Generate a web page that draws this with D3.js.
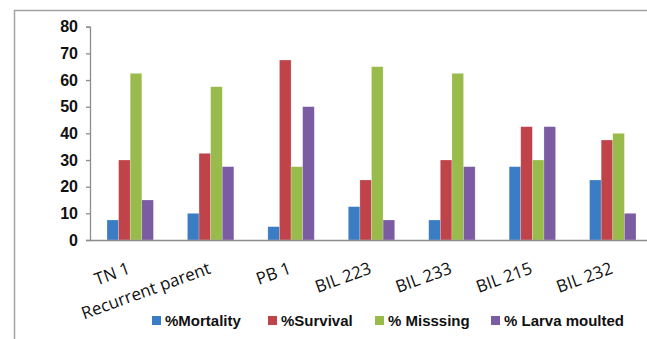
<!DOCTYPE html>
<html>
<head>
<meta charset="utf-8">
<script src="https://cdn.jsdelivr.net/npm/d3@7"></script>
<style>
  html, body { margin: 0; padding: 0; background: #fff; }
  svg { display: block; }
</style>
</head>
<body>
<svg id="chart" width="647" height="339"></svg>
<script>
// Larval outcome percentages per genotype
const categories = ["TN 1", "Recurrent parent", "PB 1", "BIL 223", "BIL 233", "BIL 215", "BIL 232"];
const seriesNames = ["%Mortality", "%Survival", "% Misssing", "% Larva moulted"];
const mortality = [7.5, 10, 5, 12.5, 7.5, 27.5, 22.5];
const survival  = [30, 32.5, 67.5, 22.5, 30, 42.5, 37.5];
const missing   = [62.5, 57.5, 27.5, 65, 62.5, 30, 40];
const moulted   = [15, 27.5, 50, 7.5, 27.5, 42.5, 10];
const yTicks = [0, 10, 20, 30, 40, 50, 60, 70, 80];
const colors = ["#3b7dc4", "#c0434a", "#98bb4c", "#7b5ca3"];

const seriesValues = [mortality, survival, missing, moulted];

const svg = d3.select("#chart");

// outer chart frame
svg.append("rect")
  .attr("x", 14.5).attr("y", 10.5)
  .attr("width", 700).attr("height", 400)
  .attr("fill", "none")
  .attr("stroke", "#a3a3a3")
  .attr("stroke-width", 1.5);

const x0 = d3.scaleBand()
  .domain(categories)
  .range([90, 653])
  .paddingInner(0.423)
  .paddingOuter(0.2115);

const x1 = d3.scaleBand()
  .domain(d3.range(seriesNames.length))
  .range([0, x0.bandwidth()]);

const y = d3.scaleLinear().domain([0, 80]).range([240, 26.7]);

// bars
const groups = svg.append("g").selectAll("g")
  .data(categories)
  .join("g")
  .attr("transform", d => `translate(${x0(d)},0)`);

groups.selectAll("rect")
  .data((d, i) => seriesValues.map((vals, s) => ({ s, v: vals[i] })))
  .join("rect")
  .attr("x", d => x1(d.s))
  .attr("y", d => y(d.v))
  .attr("width", x1.bandwidth())
  .attr("height", d => y(0) - y(d.v))
  .attr("fill", d => colors[d.s])
  .attr("stroke", "rgba(255,255,255,0.35)")
  .attr("stroke-width", 0.6);

// y axis
const yAxis = d3.axisLeft(y).tickValues(yTicks).tickSize(4).tickPadding(8);
const gy = svg.append("g").attr("transform", "translate(90,0)").call(yAxis);
gy.select(".domain").attr("stroke", "#8c8c8c").attr("stroke-width", 1.3);
gy.selectAll(".tick line").attr("stroke", "#8c8c8c").attr("stroke-width", 1.3);
gy.selectAll(".tick text")
  .attr("font-family", "'Liberation Sans', Arial, sans-serif")
  .attr("font-size", 16)
  .attr("font-weight", "bold")
  .attr("fill", "#111");

// x axis baseline
const xAxis = d3.axisBottom(x0).tickSize(0).tickFormat("");
const gx = svg.append("g").attr("transform", "translate(0,240)").call(xAxis);
gx.select(".domain").attr("stroke", "#8c8c8c").attr("stroke-width", 1.3);

// rotated category labels
svg.append("g").selectAll("text")
  .data(categories)
  .join("text")
  .attr("transform", d => `translate(${x0(d) + x0.bandwidth() / 2 + 1},273) rotate(-20)`)
  .attr("text-anchor", "end")
  .attr("font-family", "'Open Sans', sans-serif")
  .attr("font-size", 17)
  .attr("fill", "#111")
  .text(d => d);

// legend
const legendX = [152, 268, 375, 491];
const legend = svg.append("g").selectAll("g")
  .data(seriesNames)
  .join("g")
  .attr("transform", (d, i) => `translate(${legendX[i]},316)`);
legend.append("rect")
  .attr("width", 9).attr("height", 9)
  .attr("fill", (d, i) => colors[i]);
legend.append("text")
  .attr("x", 13).attr("y", 10)
  .attr("font-family", "'Liberation Sans', Arial, sans-serif")
  .attr("font-size", 15)
  .attr("font-weight", "bold")
  .attr("fill", "#111")
  .text(d => d);
</script>
</body>
</html>
